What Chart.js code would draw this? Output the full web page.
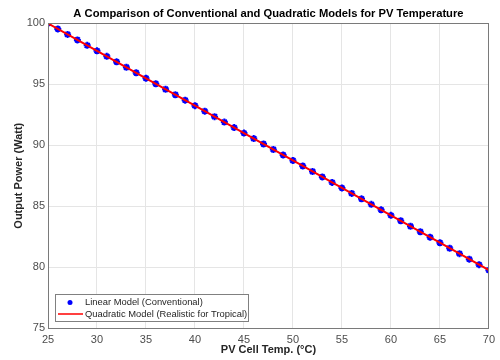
<!DOCTYPE html>
<html><head><meta charset="utf-8">
<script src="https://cdn.jsdelivr.net/npm/chart.js@4.4.0/dist/chart.umd.min.js"></script>
<style>html,body{margin:0;padding:0;background:#fff}#w{width:500px;height:360px}</style>
</head><body><div id="w"><canvas id="c" width="500" height="360"></canvas></div>
<script>
const temps = [25,26,27,28,29,30,31,32,33,34,35,36,37,38,39,40,41,42,43,44,45,46,47,48,49,50,51,52,53,54,55,56,57,58,59,60,61,62,63,64,65,66,67,68,69,70];
const linearPower = [100.00,99.55,99.10,98.65,98.20,97.75,97.30,96.85,96.40,95.95,95.50,95.05,94.60,94.15,93.70,93.25,92.80,92.35,91.90,91.45,91.00,90.55,90.10,89.65,89.20,88.75,88.30,87.85,87.40,86.95,86.50,86.05,85.60,85.15,84.70,84.25,83.80,83.35,82.90,82.45,82.00,81.55,81.10,80.65,80.20,79.75];
const quadTemps = [25,30,35,40,45,50,55,60,65,70];
const quadPower = [100.00,97.75,95.50,93.25,91.00,88.75,86.50,84.25,82.00,79.75];
const xTicks = [25,30,35,40,45,50,55,60,65,70];
const yTicks = [75,80,85,90,95,100];
const titleText = 'A Comparison of Conventional and Quadratic Models for PV Temperature';
const xLabel = 'PV Cell Temp. (°C)';
const yLabel = 'Output Power (Watt)';
const seriesNames = ['Linear Model (Conventional)', 'Quadratic Model (Realistic for Tropical)'];

const FONT = "'Liberation Sans', Arial, sans-serif";

const boxPlugin = {
  id: 'boxAndLegend',
  afterDraw(chart) {
    const ctx = chart.ctx, a = chart.chartArea;
    ctx.save();
    ctx.strokeStyle = '#7a7a7a';
    ctx.lineWidth = 1;
    ctx.strokeRect(Math.round(a.left)+0.5, Math.round(a.top)+0.5, Math.round(a.right-a.left)-1, Math.round(a.bottom-a.top));
    // legend
    const lx = 55, ly = 294, lw = 193, lh = 27;
    ctx.fillStyle = '#fff';
    ctx.fillRect(lx, ly, lw, lh);
    ctx.strokeStyle = '#808080';
    ctx.strokeRect(lx+0.5, ly+0.5, lw, lh);
    ctx.fillStyle = '#0000ff';
    ctx.beginPath(); ctx.arc(70, 302.5, 2.5, 0, Math.PI*2); ctx.fill();
    ctx.strokeStyle = '#ff0000'; ctx.lineWidth = 1.5;
    ctx.beginPath(); ctx.moveTo(58, 314); ctx.lineTo(83, 314); ctx.stroke();
    ctx.fillStyle = '#262626';
    ctx.font = '9.4px ' + FONT;
    ctx.textBaseline = 'middle';
    ctx.textAlign = 'left';
    ctx.fillText(seriesNames[0], 85, 302.5);
    ctx.fillText(seriesNames[1], 85, 314);
    ctx.restore();
  }
};

new Chart(document.getElementById('c'), {
  type: 'scatter',
  data: {
    datasets: [
      {
        label: seriesNames[1],
        data: quadTemps.map((t,i)=>({x:t,y:quadPower[i]})),
        showLine: true, borderColor: '#ff0000', borderWidth: 2, pointRadius: 0,
        order: 0
      },
      {
        label: seriesNames[0],
        data: temps.map((t,i)=>({x:t,y:linearPower[i]})),
        showLine: false, pointStyle: 'star', pointRadius: 3.5,
        borderColor: '#0000ff', backgroundColor: '#0000ff', pointBorderWidth: 2,
        order: 1
      }
    ]
  },
  options: {
    responsive: false, animation: false, devicePixelRatio: 1,
    layout: { padding: { left: 0, right: 5, top: 0, bottom: 0 } },
    plugins: {
      legend: { display: false },
      tooltip: { enabled: false },
      title: {
        display: true, text: titleText, fullSize: false, color: '#000',
        font: { family: FONT, size: 11.2, weight: 'bold' },
        padding: { top: 7, bottom: 3 }
      }
    },
    scales: {
      x: {
        type: 'linear', min: 25, max: 70,
        afterBuildTicks: s => { s.ticks = xTicks.map(v=>({value:v})); },
        afterFit: s => { s.height = 32; },
        grid: { color: '#e5e5e5', drawTicks: false },
        border: { display: false },
        ticks: { color: '#4d4d4d', padding: 5, font: { family: FONT, size: 11 } },
        title: { display: true, text: xLabel, color: '#262626', font: { family: FONT, size: 11, weight: 'bold' }, padding: { top: 0, bottom: 3 } }
      },
      y: {
        type: 'linear', min: 75, max: 100,
        afterBuildTicks: s => { s.ticks = yTicks.map(v=>({value:v})); },
        afterFit: s => { s.width = 48; },
        grid: { color: '#e5e5e5', drawTicks: false },
        border: { display: false },
        ticks: { color: '#4d4d4d', padding: 3, font: { family: FONT, size: 11 } },
        title: { display: true, text: yLabel, color: '#262626', font: { family: FONT, size: 11, weight: 'bold' }, padding: { top: 12, bottom: 0 } }
      }
    }
  },
  plugins: [boxPlugin]
});
</script></body></html>
